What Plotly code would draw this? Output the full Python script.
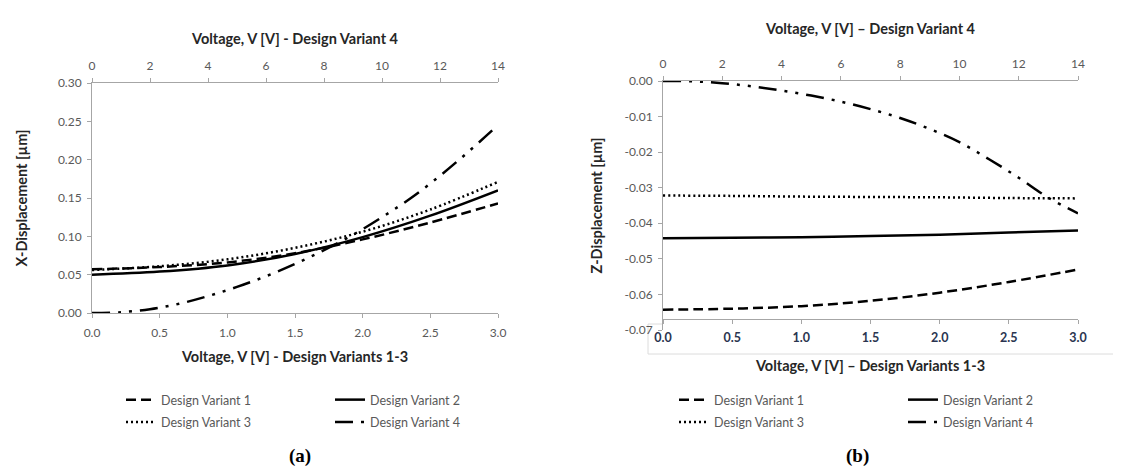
import plotly.graph_objects as go

W, H = 1121, 472

# ---------------- data ----------------
v_dv13 = [0.0, 0.5, 1.0, 1.5, 2.0, 2.5, 3.0]          # Design Variants 1-3 voltage [V]
v_dv4 = [0, 1, 2, 3, 4, 5, 6, 7, 8, 9, 10, 11, 12, 13, 14]  # Design Variant 4 voltage [V]

# (a) X-Displacement [um]
xa_dv1 = [0.057, 0.060, 0.066, 0.078, 0.096, 0.118, 0.143]
xa_dv2 = [0.050, 0.054, 0.062, 0.077, 0.099, 0.127, 0.160]
xa_dv3 = [0.056, 0.061, 0.070, 0.085, 0.106, 0.135, 0.171]
xa_dv4 = [0.000, 0.001, 0.005, 0.012, 0.022, 0.034, 0.048, 0.064, 0.082, 0.102,
          0.125, 0.150, 0.179, 0.211, 0.245]

# (b) Z-Displacement [um]
zb_dv1 = [-0.0643, -0.0640, -0.0633, -0.0618, -0.0595, -0.0565, -0.0530]
zb_dv2 = [-0.0442, -0.0441, -0.0439, -0.0436, -0.0432, -0.0426, -0.0420]
zb_dv3 = [-0.0322, -0.0323, -0.0325, -0.0326, -0.0327, -0.0329, -0.0330]
zb_dv4 = [0.0, -0.0001, -0.0006, -0.0015, -0.0027, -0.0041, -0.0058, -0.0079, -0.0104,
          -0.0135, -0.0172, -0.0220, -0.0272, -0.0328, -0.0372]

series_names = ["Design Variant 1", "Design Variant 2", "Design Variant 3", "Design Variant 4"]

xa_yticks = [0.00, 0.05, 0.10, 0.15, 0.20, 0.25, 0.30]
xa_yticklabels = ["0.00", "0.05", "0.10", "0.15", "0.20", "0.25", "0.30"]
zb_yticks = [0.00, -0.01, -0.02, -0.03, -0.04, -0.05, -0.06, -0.07]
zb_yticklabels = ["0.00", "-0.01", "-0.02", "-0.03", "-0.04", "-0.05", "-0.06", "-0.07"]
v13_ticks = [0.0, 0.5, 1.0, 1.5, 2.0, 2.5, 3.0]
v13_ticklabels = ["0.0", "0.5", "1.0", "1.5", "2.0", "2.5", "3.0"]
v4_ticks = [0, 2, 4, 6, 8, 10, 12, 14]
v4_ticklabels = ["0", "2", "4", "6", "8", "10", "12", "14"]

# ---------------- styling ----------------
FONT = "Lato"
AX = "#a6a6a6"
TICKC = "#595959"
TITLEC = "#262626"
dashes = ["10px,5px", "solid", "2px,3px", "18px,8px,3px,8px,3px,8px"]


def px(x):
    return x / W


def py(y):
    return 1 - y / H


fig = go.Figure()

legends_a = ["legend", "legend2", "legend", "legend2"]
legends_b = ["legend3", "legend4", "legend3", "legend4"]

ys_a = [xa_dv1, xa_dv2, xa_dv3]
for i in range(3):
    fig.add_trace(go.Scatter(x=v_dv13, y=ys_a[i], name=series_names[i], mode="lines",
                             line=dict(color="black", width=2.5, dash=dashes[i], shape="spline"),
                             xaxis="x", yaxis="y", legend=legends_a[i], legendgroup="a%d" % i))
fig.add_trace(go.Scatter(x=v_dv4, y=xa_dv4, name=series_names[3], mode="lines",
                         line=dict(color="black", width=2.5, dash=dashes[3], shape="spline"),
                         xaxis="x2", yaxis="y", legend=legends_a[3], legendgroup="a3"))

ys_b = [zb_dv1, zb_dv2, zb_dv3]
for i in range(3):
    fig.add_trace(go.Scatter(x=v_dv13, y=ys_b[i], name=series_names[i], mode="lines",
                             line=dict(color="black", width=2.5, dash=dashes[i], shape="spline"),
                             xaxis="x3", yaxis="y2", legend=legends_b[i], legendgroup="b%d" % i))
fig.add_trace(go.Scatter(x=v_dv4, y=zb_dv4, name=series_names[3], mode="lines",
                         line=dict(color="black", width=2.5, dash=dashes[3], shape="spline"),
                         xaxis="x4", yaxis="y2", legend=legends_b[3], legendgroup="b3"))

common = dict(showline=True, linecolor=AX, linewidth=1, ticks="outside", ticklen=4,
              tickcolor=AX, showgrid=False, zeroline=False, automargin=False,
              tickfont=dict(family=FONT, size=12, color=TICKC))
title_font = dict(family=FONT, size=14.5, color=TITLEC, weight="bold")

a_dom_x = [px(84), px(490)]
b_dom_x = [px(655), px(1070)]

fig.update_layout(
    width=W, height=H, autosize=False,
    margin=dict(l=0, r=0, t=0, b=0, autoexpand=False),
    paper_bgcolor="white", plot_bgcolor="white",
    font=dict(family=FONT, size=12, color=TICKC),
    xaxis=dict(domain=a_dom_x, range=[0, 3], anchor="y", tickvals=v13_ticks, ticktext=v13_ticklabels,
               ticklabelstandoff=5,
               title=dict(text="Voltage, V [V] - Design Variants 1-3", font=title_font, standoff=12),
               **common),
    xaxis2=dict(range=[0, 14], overlaying="x", side="top", anchor="y", tickvals=v4_ticks,
                ticktext=v4_ticklabels, ticklabelstandoff=3,
                title=dict(text="Voltage, V [V] - Design Variant 4", font=title_font, standoff=10),
                **common),
    yaxis=dict(domain=[py(305), py(75)], range=[0, 0.30], anchor="x", tickvals=xa_yticks,
               ticktext=xa_yticklabels, ticklabelstandoff=3,
               title=dict(text="X-Displacement [µm]", font=title_font, standoff=26),
               **common),
    xaxis3=dict(domain=b_dom_x, range=[0, 3], anchor="free", position=py(310.6),
                tickvals=v13_ticks, ticktext=v13_ticklabels, ticklabelstandoff=3,
                title=dict(text="Voltage, V [V] – Design Variants 1-3", font=title_font, standoff=17),
                **{**common, "tickfont": dict(family=FONT, size=12.5, color="#2a3550", weight="bold")}),
    xaxis4=dict(range=[0, 14], overlaying="x3", side="top", anchor="y2", tickvals=v4_ticks,
                ticktext=v4_ticklabels, ticklabelstandoff=3,
                title=dict(text="Voltage, V [V] – Design Variant 4", font=title_font, standoff=18),
                **common),
    yaxis2=dict(domain=[py(322), py(73)], range=[-0.07, 0], anchor="x3", tickvals=zb_yticks,
                ticktext=zb_yticklabels, ticklabelstandoff=3,
                title=dict(text="Z-Displacement [µm]", font=title_font, standoff=18),
                **common),
    showlegend=True,
)

leg_common = dict(orientation="v", yanchor="top", xanchor="left", bgcolor="rgba(0,0,0,0)",
                  borderwidth=0, traceorder="grouped", tracegroupgap=3,
                  font=dict(family=FONT, size=12.5, color=TICKC), itemwidth=30)
fig.update_layout(
    legend=dict(x=px(113), y=py(377), **leg_common),
    legend2=dict(x=px(322), y=py(377), **leg_common),
    legend3=dict(x=px(666), y=py(377), **leg_common),
    legend4=dict(x=px(895), y=py(377), **leg_common),
)

# light frame artefact around the lower axis labels of panel (b)
fig.add_shape(type="path", xref="paper", yref="paper", layer="below",
              path="M 1.0,%f L %f,%f L %f,%f L %f,%f" % (py(346), px(640), py(346), px(640), py(316), px(655), py(316)),
              line=dict(color="#dcdcdc", width=1))

fig.add_annotation(x=px(279), y=py(461), xref="paper", yref="paper", text="<b>(a)</b>", showarrow=False,
                   font=dict(family="Liberation Serif", size=19, color="black"))
fig.add_annotation(x=px(863), y=py(461), xref="paper", yref="paper", text="<b>(b)</b>", showarrow=False,
                   font=dict(family="Liberation Serif", size=19, color="black"))

fig.write_html("out.html")
